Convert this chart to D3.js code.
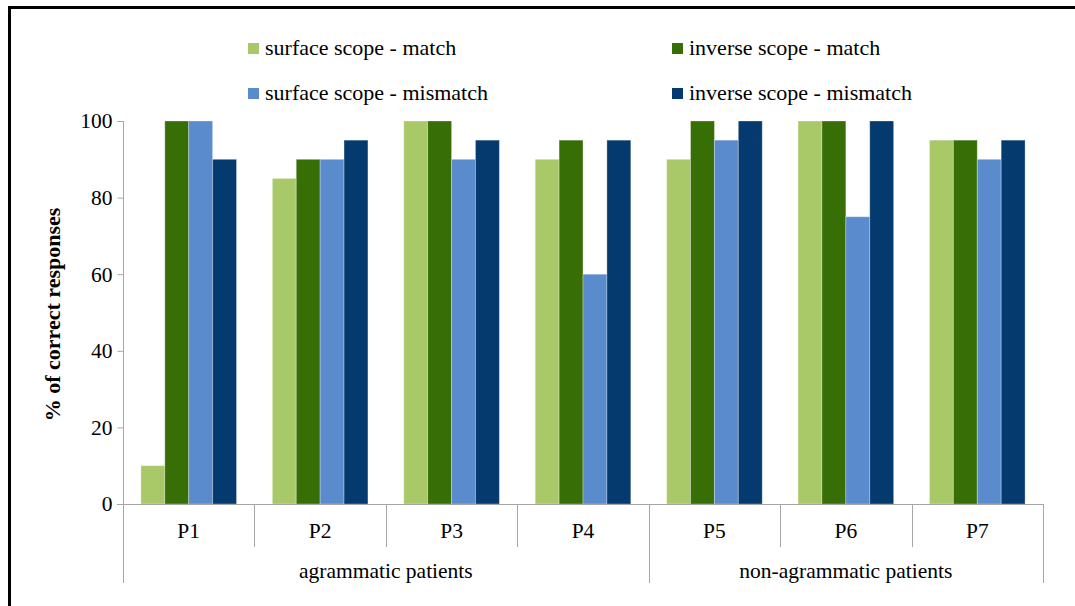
<!DOCTYPE html>
<html>
<head>
<meta charset="utf-8">
<script src="https://cdn.jsdelivr.net/npm/d3@7"></script>
<style>
  html, body { margin: 0; padding: 0; background: #fff; }
  svg { display: block; }
  text { font-family: "Liberation Serif", "Times New Roman", serif; fill: #000; }
</style>
</head>
<body>
<svg id="chart" width="1075" height="606"></svg>
<script>
const categories = ["P1", "P2", "P3", "P4", "P5", "P6", "P7"];
const seriesNames = ["surface scope - match", "inverse scope - match", "surface scope - mismatch", "inverse scope - mismatch"];
const surfaceMatch    = [10, 85, 100, 90, 90, 100, 95];
const inverseMatch    = [100, 90, 100, 95, 100, 100, 95];
const surfaceMismatch = [100, 90, 90, 60, 95, 75, 90];
const inverseMismatch = [90, 95, 95, 95, 100, 100, 95];
const seriesColors = ["#A9C868", "#386E06", "#5A8BCC", "#043A6D"];
const yTicks = [0, 20, 40, 60, 80, 100];
const groups = [
  { label: "agrammatic patients", members: ["P1", "P2", "P3", "P4"] },
  { label: "non-agrammatic patients", members: ["P5", "P6", "P7"] }
];
const yTitle = "% of correct responses";

const seriesValues = [surfaceMatch, inverseMatch, surfaceMismatch, inverseMismatch];

const FONT = '"Liberation Serif", "Times New Roman", serif';
const FS = "21.5px";
const svg = d3.select("#chart");
const pLeft = 123, pRight = 1043, pTop = 121, pBottom = 504;

const x0 = d3.scaleBand().domain(categories).range([pLeft, pRight]).paddingInner(0).paddingOuter(0);
const x1 = d3.scaleBand().domain(seriesNames).range([0, x0.bandwidth()]).paddingInner(0).paddingOuter(0.75);
const y = d3.scaleLinear().domain([0, 100]).range([pBottom, pTop]);

// outer frame (partial border)
svg.append("line").attr("x1", 9.5).attr("x2", 9.5).attr("y1", 6).attr("y2", 606)
  .attr("stroke", "#000").attr("stroke-width", 3);
svg.append("line").attr("x1", 8).attr("x2", 1075).attr("y1", 7.5).attr("y2", 7.5)
  .attr("stroke", "#000").attr("stroke-width", 3);

// bars
const barData = [];
categories.forEach((c, i) => {
  seriesNames.forEach((s, j) => {
    barData.push({ cat: c, series: s, value: seriesValues[j][i], color: seriesColors[j] });
  });
});
svg.append("g").selectAll("rect").data(barData).join("rect")
  .attr("x", d => x0(d.cat) + x1(d.series))
  .attr("y", d => y(d.value))
  .attr("width", x1.bandwidth())
  .attr("height", d => y(0) - y(d.value))
  .attr("fill", d => d.color)
  .attr("stroke", "rgba(255,255,255,0.3)")
  .attr("stroke-width", 1);

// y axis
const yAxis = svg.append("g").attr("transform", `translate(${pLeft + 0.5},0)`)
  .call(d3.axisLeft(y).tickValues(yTicks).tickSize(6).tickPadding(5).tickFormat(d3.format("d")));
yAxis.select(".domain").attr("stroke", "#A6A6A6").attr("d", `M-6,${pTop + 0.5}H0V${pBottom + 0.5}`);
yAxis.selectAll(".tick line").attr("stroke", "#A6A6A6");
yAxis.selectAll(".tick text").style("font-family", FONT).style("font-size", FS).attr("fill", "#000");

// x axis line
svg.append("line").attr("x1", pLeft - 6).attr("x2", pRight).attr("y1", pBottom + 0.5).attr("y2", pBottom + 0.5)
  .attr("stroke", "#A6A6A6").attr("stroke-width", 1);

// category separators
const bounds = categories.map(c => x0(c)).concat([pRight]);
const groupBounds = new Set([pLeft, pRight]);
groups.forEach(g => { groupBounds.add(x0(g.members[0])); });
svg.append("g").selectAll("line").data(bounds).join("line")
  .attr("x1", d => Math.round(d) + 0.5).attr("x2", d => Math.round(d) + 0.5)
  .attr("y1", pBottom)
  .attr("y2", d => groupBounds.has(d) ? 583 : 547)
  .attr("stroke", "#A6A6A6").attr("stroke-width", 1);

// category labels
const xAxis = svg.append("g").attr("transform", `translate(0,${pBottom})`)
  .call(d3.axisBottom(x0).tickSize(0).tickPadding(0));
xAxis.select(".domain").remove();
xAxis.selectAll(".tick text").style("font-family", FONT).style("font-size", FS)
  .attr("fill", "#000").attr("y", 34).attr("dy", null);

// group labels
svg.append("g").selectAll("text").data(groups).join("text")
  .attr("x", g => (x0(g.members[0]) + x0(g.members[g.members.length - 1]) + x0.bandwidth()) / 2)
  .attr("y", 578)
  .attr("text-anchor", "middle")
  .style("font-family", FONT)
  .style("font-size", FS)
  .text(g => g.label);

// y title
svg.append("text")
  .attr("transform", `translate(60,${(pTop + pBottom) / 2 + 2}) rotate(-90)`)
  .attr("text-anchor", "middle")
  .style("font-family", FONT)
  .style("font-size", "22px").style("font-weight", "bold")
  .text(yTitle);

// legend
const legendPos = [
  { x: 248, y: 48 }, { x: 672, y: 48 },
  { x: 248, y: 93 }, { x: 672, y: 93 }
];
const legend = svg.append("g").selectAll("g").data(seriesNames).join("g")
  .attr("transform", (d, i) => `translate(${legendPos[i].x},${legendPos[i].y})`);
legend.append("rect").attr("x", 0).attr("y", -5).attr("width", 11).attr("height", 11)
  .attr("fill", (d, i) => seriesColors[i]);
legend.append("text").attr("x", 17).attr("y", 7)
  .style("font-family", FONT)
  .style("font-size", "22px").text(d => d);
</script>
</body>
</html>
